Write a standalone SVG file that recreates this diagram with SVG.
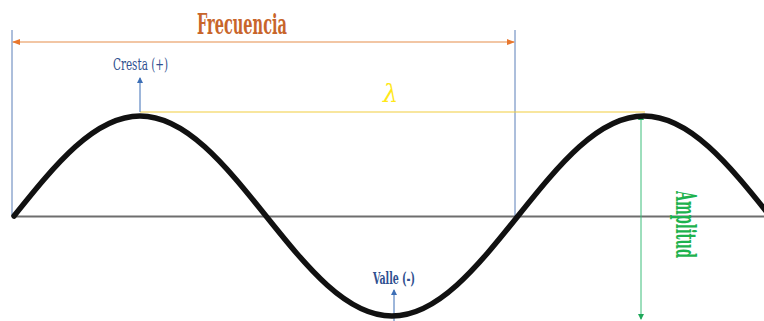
<svg xmlns="http://www.w3.org/2000/svg" width="764" height="321" viewBox="0 0 764 321">
<style>
.cond{font-family:"DejaVu Serif Condensed","DejaVu Serif","Liberation Serif",serif;font-stretch:condensed;font-weight:bold}
.blue{fill:#2F4F8F}
.guide{stroke:#5B7FB8;stroke-width:1}
</style>
<defs>
<marker id="oa" viewBox="0 0 8 8" refX="7" refY="4" markerWidth="8" markerHeight="8" markerUnits="userSpaceOnUse" orient="auto-start-reverse"><path d="M0,1 L8,4 L0,7 Z" fill="#E8772E"/></marker>
<marker id="ba" viewBox="0 0 6 6" refX="5" refY="3" markerWidth="6" markerHeight="6" markerUnits="userSpaceOnUse" orient="auto"><path d="M0,0 L6,3 L0,6 Z" fill="#3D6FB6"/></marker>
<marker id="ga" viewBox="0 0 6 6" refX="5" refY="3" markerWidth="6" markerHeight="6" markerUnits="userSpaceOnUse" orient="auto-start-reverse"><path d="M0,0 L6,3 L0,6 Z" fill="#1FA85A"/></marker>
</defs>
<rect width="764" height="321" fill="#fff"/>
<g id="axis"><line x1="14" y1="216.5" x2="764" y2="216.5" stroke="#6E6E6E" stroke-width="2"/></g>
<g id="connectors">
<line class="guide" x1="12" y1="30" x2="12" y2="216"/>
<line class="guide" x1="515" y1="30" x2="515" y2="216"/>
<line x1="13" y1="42" x2="514" y2="42" stroke="#F2C6A4" stroke-width="2" marker-start="url(#oa)" marker-end="url(#oa)"/>
<line x1="140" y1="112" x2="645" y2="112" stroke="#F2CE3E" stroke-width="1.2"/>
<line x1="140" y1="112" x2="140" y2="78" stroke="#3D6FB6" stroke-width="1" marker-end="url(#ba)"/>
<line x1="394" y1="321" x2="394" y2="290" stroke="#3D6FB6" stroke-width="1" marker-end="url(#ba)"/>
<line x1="641" y1="115" x2="641" y2="319" stroke="#3DBE7A" stroke-width="1" marker-start="url(#ga)" marker-end="url(#ga)"/>
</g>
<g id="wave"><path d="M14,216 C55.09,164.77 94.4,116 140,116 C185.6,116 224.91,164.77 266,216 C307.09,267.23 346.4,316 392,316 C437.6,316 476.91,267.23 518,216 C559.09,164.77 598.4,116 644,116 C689.6,116 728.91,164.77 770,216" fill="none" stroke="#111" stroke-width="5.5" stroke-linecap="round"/></g>
<g id="frecuencia"><text class="cond" x="197" y="34" font-size="28" fill="#C8652A" textLength="90" lengthAdjust="spacingAndGlyphs">Frecuencia</text></g>
<g id="cresta"><text class="cond blue" x="113" y="70" font-size="16" font-weight="normal" textLength="55" lengthAdjust="spacingAndGlyphs" style="font-weight:normal">Cresta (+)</text></g>
<g id="lambda"><text x="383" y="102" font-family="DejaVu Serif, serif" font-style="italic" font-size="24" fill="#FFE81A">λ</text></g>
<g id="valle"><text class="cond blue" x="373" y="284" font-size="16" textLength="42" lengthAdjust="spacingAndGlyphs">Valle (-)</text></g>
<g id="amplitud"><text class="cond" transform="translate(676,191) rotate(90)" x="0" y="0" font-size="27" fill="#1DB24E" textLength="67" lengthAdjust="spacingAndGlyphs">Amplitud</text></g>
</svg>
